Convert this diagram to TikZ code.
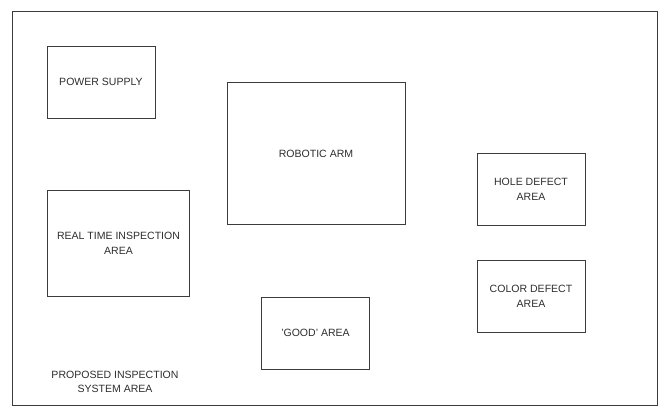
\documentclass[tikz,border=0pt]{standalone}
\usepackage{fontspec}
\setmainfont{Liberation Sans}
\definecolor{linegray}{RGB}{60,60,60}
\definecolor{textgray}{RGB}{45,45,45}
\usetikzlibrary{positioning}

\begin{document}
\begin{tikzpicture}[x=0.75pt, y=-0.75pt,
    area/.style={draw=linegray, line width=0.75pt, align=center, text=textgray,
                 font=\fontsize{7.9}{11}\selectfont, inner sep=2pt}]
  \useasboundingbox (0,0) rectangle (668,412);
  % outer frame
  \node[draw=linegray, line width=0.75pt, minimum width=483.75pt, minimum height=295.5pt] (frame) at (334.5,208) {};
  \node[area, minimum width=81pt, minimum height=54pt] (power) at (101,82) {POWER SUPPLY};
  \node[area, minimum width=133.5pt, minimum height=107pt] (arm) at (316,153.5) {ROBOTIC ARM};
  \node[area, minimum width=81pt, minimum height=53.5pt] (hole) at (531,189.5) {HOLE DEFECT\\AREA};
  \node[area, minimum width=107pt, minimum height=80pt] (realtime) at (118.5,243.5) {REAL TIME INSPECTION\\AREA};
  \node[area, minimum width=81pt, minimum height=53.5pt] (color) at (531,296.5) {COLOR DEFECT\\AREA};
  \node[area, minimum width=80.5pt, minimum height=54pt] (good) at (315.5,333) {'GOOD' AREA};
  \node[area, draw=none, font=\fontsize{7.9}{10.5}\selectfont] (label) at (115,382) {PROPOSED INSPECTION\\SYSTEM AREA};
\end{tikzpicture}
\end{document}
